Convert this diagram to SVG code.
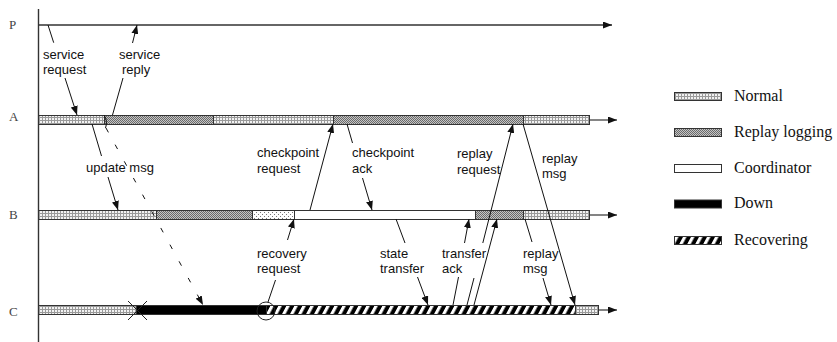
<svg xmlns="http://www.w3.org/2000/svg" width="837" height="342" viewBox="0 0 837 342">
<defs>
<style>
.lbl{font-family:"Liberation Sans",Arial,sans-serif;font-size:13px;fill:#111}
.proc{font-family:"Liberation Serif","Times New Roman",serif;font-size:13px;fill:#444}
.leg{font-family:"Liberation Serif","Times New Roman",serif;font-size:16px;fill:#111}
.ln{stroke:#111;stroke-width:1;fill:none}
.arr{stroke:#111;stroke-width:1;fill:none;marker-end:url(#ah)}
.seg{stroke:#333;stroke-width:1}
.normal{fill:url(#pNormal)}
.replay{fill:url(#pReplay)}
.sparse{fill:url(#pSparse)}
.coord{fill:#fff}
.down{fill:#000}
.recov{fill:url(#pRecov)}
</style>
<pattern id="pNormal" width="3" height="3" patternUnits="userSpaceOnUse">
<rect width="3" height="3" fill="#f2f2f2"/>
<rect width="3" height="1" fill="#9a9a9a"/>
<rect width="1" height="3" fill="#9a9a9a"/>
</pattern>
<pattern id="pReplay" width="2" height="2" patternUnits="userSpaceOnUse">
<rect width="2" height="2" fill="#c4c4c4"/>
<rect width="1" height="1" fill="#6a6a6a"/>
<rect x="1" y="1" width="1" height="1" fill="#6a6a6a"/>
</pattern>
<pattern id="pSparse" width="4" height="4" patternUnits="userSpaceOnUse">
<rect width="4" height="4" fill="#fff"/>
<rect width="1" height="1" fill="#777"/>
<rect x="2" y="2" width="1" height="1" fill="#777"/>
</pattern>
<pattern id="pRecov" width="8" height="10" patternUnits="userSpaceOnUse" patternTransform="skewX(-28)">
<rect width="8" height="10" fill="#000"/>
<rect x="1" width="3.5" height="10" fill="#fff"/>
</pattern>
<marker id="ah" markerWidth="9" markerHeight="7" refX="9" refY="3.5" orient="auto" markerUnits="userSpaceOnUse">
<path d="M0,0 L9,3.5 L0,7 z" fill="#111"/>
</marker>
</defs>

<g id="axis">
<line x1="38.5" y1="9" x2="38.5" y2="342" stroke="#333" stroke-width="1.4"/>
</g>

<g id="P">
<text class="proc" x="9" y="29">P</text>
<line x1="38" y1="25" x2="612" y2="25" stroke="#333" stroke-width="1.3" marker-end="url(#ah)"/>
</g>

<g id="A">
<text class="proc" x="9" y="121">A</text>
<rect class="seg normal" x="38.5" y="115.5" width="66" height="9"/>
<rect class="seg replay" x="104.5" y="115.5" width="109" height="9"/>
<rect class="seg normal" x="213.5" y="115.5" width="120" height="9"/>
<rect class="seg replay" x="333.5" y="115.5" width="190" height="9"/>
<rect class="seg normal" x="523.5" y="115.5" width="66" height="9"/>
<line x1="590" y1="120" x2="617" y2="120" stroke="#333" stroke-width="1.2" marker-end="url(#ah)"/>
</g>

<g id="B">
<text class="proc" x="9" y="219">B</text>
<rect class="seg normal" x="38.5" y="210.5" width="118" height="9"/>
<rect class="seg replay" x="156.5" y="210.5" width="96" height="9"/>
<rect class="seg sparse" x="252.5" y="210.5" width="42" height="9"/>
<rect class="seg coord" x="294.5" y="210.5" width="181" height="9"/>
<rect class="seg replay" x="475.5" y="210.5" width="48" height="9"/>
<rect class="seg normal" x="523.5" y="210.5" width="66" height="9"/>
<line x1="590" y1="215" x2="617" y2="215" stroke="#333" stroke-width="1.2" marker-end="url(#ah)"/>
</g>

<g id="C">
<text class="proc" x="9" y="316">C</text>
<rect class="seg normal" x="38.5" y="305.5" width="98" height="9"/>
<rect class="seg down" x="136.5" y="305.5" width="130" height="9"/>
<rect class="seg recov" x="266.5" y="305.5" width="309" height="9"/>
<rect class="seg normal" x="575.5" y="305.5" width="23" height="9"/>
<line x1="599" y1="310" x2="617" y2="310" stroke="#333" stroke-width="1.2" marker-end="url(#ah)"/>
<g id="crash">
<line x1="128" y1="301" x2="147" y2="320" stroke="#222" stroke-width="1"/>
<line x1="128" y1="320" x2="147" y2="301" stroke="#222" stroke-width="1"/>
</g>
<circle id="restart" cx="266" cy="311" r="9" fill="none" stroke="#222" stroke-width="1"/>
</g>

<g id="connectors">
<!-- service request -->
<line class="ln" x1="48" y1="25" x2="53.7" y2="42.7"/>
<line class="arr" x1="65" y1="78" x2="77" y2="115"/>
<!-- service reply -->
<line class="ln" x1="112.5" y1="115" x2="123" y2="78"/>
<line class="arr" x1="132.5" y1="43" x2="137" y2="25"/>
<!-- update msg -->
<line class="ln" x1="92" y1="124" x2="101.5" y2="156"/>
<line class="arr" x1="108" y1="177" x2="118" y2="210"/>
<!-- dashed msg to crashed C -->
<path d="M104,115 Q108,121 105.5,128" class="ln"/>
<line x1="106" y1="128" x2="203" y2="305" stroke="#111" stroke-width="1" stroke-dasharray="5 14" marker-end="url(#ah)"/>
<!-- checkpoint request -->
<line class="arr" x1="310" y1="210" x2="333" y2="124"/>
<!-- checkpoint ack -->
<line class="ln" x1="347" y1="124" x2="352.5" y2="143"/>
<line class="arr" x1="362.5" y1="178" x2="372" y2="210"/>
<!-- recovery request -->
<line class="ln" x1="268" y1="302" x2="275.5" y2="280"/>
<line class="arr" x1="287.5" y1="240" x2="294" y2="219"/>
<!-- state transfer -->
<line class="ln" x1="396" y1="219" x2="405" y2="243"/>
<line class="arr" x1="417.5" y1="277" x2="428" y2="305"/>
<!-- transfer ack -->
<line class="ln" x1="453" y1="305" x2="458.5" y2="277"/>
<line class="arr" x1="464.5" y1="243" x2="469" y2="219"/>
<!-- replay request C to A -->
<line class="ln" x1="467" y1="305" x2="474" y2="278"/>
<line class="arr" x1="482.8" y1="243" x2="513" y2="124"/>
<!-- third C to B -->
<line class="arr" x1="474" y1="305" x2="497" y2="219"/>
<!-- replay msg A to C -->
<line class="arr" x1="523" y1="124" x2="575" y2="305"/>
<!-- replay msg B to C -->
<line class="ln" x1="525" y1="219" x2="532" y2="242"/>
<line class="arr" x1="543" y1="278" x2="551" y2="305"/>
</g>

<g id="labels">
<text class="lbl" x="43" y="59">service</text>
<text class="lbl" x="43" y="74">request</text>
<text class="lbl" x="119" y="59">service</text>
<text class="lbl" x="122" y="74">reply</text>
<text class="lbl" x="86" y="172">update msg</text>
<text class="lbl" x="257" y="157">checkpoint</text>
<text class="lbl" x="257" y="173">request</text>
<text class="lbl" x="352" y="157">checkpoint</text>
<text class="lbl" x="352" y="173">ack</text>
<text class="lbl" x="457" y="158">replay</text>
<text class="lbl" x="457" y="174">request</text>
<text class="lbl" x="542" y="163">replay</text>
<text class="lbl" x="542" y="178">msg</text>
<text class="lbl" x="257" y="258">recovery</text>
<text class="lbl" x="257" y="273">request</text>
<text class="lbl" x="380" y="258">state</text>
<text class="lbl" x="380" y="273">transfer</text>
<text class="lbl" x="442" y="258">transfer</text>
<text class="lbl" x="442" y="273">ack</text>
<text class="lbl" x="523" y="258">replay</text>
<text class="lbl" x="523" y="273">msg</text>
</g>

<g id="legend">
<g id="leg-normal"><rect class="seg normal" x="674.5" y="92.5" width="47" height="8"/><text class="leg" x="734" y="101">Normal</text></g>
<g id="leg-replay"><rect class="seg replay" x="674.5" y="128.5" width="47" height="8"/><text class="leg" x="734" y="137">Replay logging</text></g>
<g id="leg-coord"><rect class="seg coord" x="674.5" y="164.5" width="47" height="8"/><text class="leg" x="734" y="173">Coordinator</text></g>
<g id="leg-down"><rect class="seg down" x="674.5" y="200" width="47" height="8"/><text class="leg" x="734" y="208">Down</text></g>
<g id="leg-recov"><rect class="seg recov" x="674.5" y="236.5" width="47" height="8"/><text class="leg" x="734" y="245">Recovering</text></g>
</g>
</svg>
